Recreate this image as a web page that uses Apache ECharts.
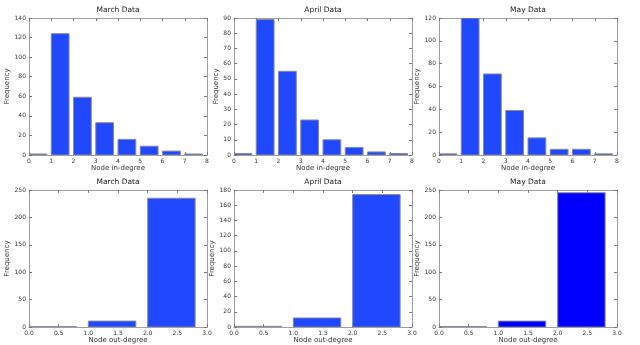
<!DOCTYPE html>
<html>
<head>
<meta charset="utf-8">
<script src="https://cdn.jsdelivr.net/npm/echarts@6/dist/echarts.min.js"></script>
<style>html,body{margin:0;padding:0;background:#fff}#c{width:640px;height:345px}</style>
</head>
<body>
<div id="c"></div>
<script>
// ---- data ----
const titles = ['March Data', 'April Data', 'May Data'];
const inBins = [0, 1, 2, 3, 4, 5, 6, 7];
const outBins = [0, 1, 2];
const marchIn = [1, 124, 59, 33, 16, 9, 4, 1];
const aprilIn = [1, 89, 55, 23, 10, 5, 2, 1];
const mayIn = [1, 120, 71, 39, 15, 5, 5, 1];
const marchOut = [1, 11, 235];
const aprilOut = [1, 12, 174];
const mayOut = [1, 11, 245];
const inYMax = [140, 90, 120];
const inYStep = [20, 10, 20];
const outYMax = [250, 180, 250];
const outYStep = [50, 20, 50];
const inXMax = 8, outXMax = 3;
const BAR_W = 0.8;

// ---- layout ----
const lefts = [29, 234, 439];
const W = 178;
const rows = [{top: 18, height: 137}, {top: 190, height: 138}];
const nameGaps = [16, 13, 15];
const colors = ['#1f48ff', '#1f48ff', '#1f48ff', '#1f48ff', '#1f48ff', '#0000ff'];

const grids = [], xAxes = [], yAxes = [], series = [], titleOpts = [];
const panels = [];
for (let r = 0; r < 2; r++) {
  for (let c = 0; c < 3; c++) {
    const isIn = r === 0;
    panels.push({
      r, c,
      bins: isIn ? inBins : outBins,
      vals: isIn ? [marchIn, aprilIn, mayIn][c] : [marchOut, aprilOut, mayOut][c],
      ymax: isIn ? inYMax[c] : outYMax[c],
      ystep: isIn ? inYStep[c] : outYStep[c],
      xmax: isIn ? inXMax : outXMax,
      xstep: isIn ? 1 : 0.5,
      xname: isIn ? 'Node in-degree' : 'Node out-degree',
      title: titles[c]
    });
  }
}
const frame = '#a0a0a0';
const tickStyle = {show: true, inside: true, length: 3, lineStyle: {color: '#777', width: 1}};
panels.forEach((p, i) => {
  const g = {left: lefts[p.c], width: W, top: rows[p.r].top, height: rows[p.r].height, show: false};
  grids.push(g);
  const fmtX = v => p.xstep < 1 ? v.toFixed(1) : String(v);
  // bottom x
  xAxes.push({
    gridIndex: i, type: 'value', min: 0, max: p.xmax, interval: p.xstep, position: 'bottom',
    axisLine: {show: true, onZero: false, lineStyle: {color: frame}},
    axisTick: tickStyle, splitLine: {show: false},
    axisLabel: {fontSize: 6, color: '#333', margin: 3, formatter: fmtX, fontFamily: 'DejaVu Sans'},
    name: p.xname, nameLocation: 'middle', nameGap: 9,
    nameTextStyle: {fontSize: 7, color: '#333', fontFamily: 'DejaVu Sans'}
  });
  // top x (ticks only)
  xAxes.push({
    gridIndex: i, type: 'value', min: 0, max: p.xmax, interval: p.xstep, position: 'top',
    axisLine: {show: true, onZero: false, lineStyle: {color: frame}},
    axisTick: tickStyle, splitLine: {show: false}, axisLabel: {show: false},
    name: p.title, nameLocation: 'middle', nameGap: 4,
    nameTextStyle: {fontSize: 7.5, color: '#222', fontFamily: 'DejaVu Sans'}
  });
  yAxes.push({
    gridIndex: i, type: 'value', min: 0, max: p.ymax, interval: p.ystep, position: 'left',
    axisLine: {show: true, onZero: false, lineStyle: {color: frame}},
    axisTick: tickStyle, splitLine: {show: false},
    axisLabel: {fontSize: 6, color: '#333', margin: 3, fontFamily: 'DejaVu Sans'},
    name: 'Frequency', nameLocation: 'middle', nameGap: nameGaps[p.c], nameRotate: 90,
    nameTextStyle: {fontSize: 7, color: '#333', fontFamily: 'DejaVu Sans'}
  });
  yAxes.push({
    gridIndex: i, type: 'value', min: 0, max: p.ymax, interval: p.ystep, position: 'right',
    axisLine: {show: true, onZero: false, lineStyle: {color: frame}},
    axisTick: tickStyle, splitLine: {show: false}, axisLabel: {show: false}
  });
  const color = colors[i];
  series.push({
    type: 'custom', xAxisIndex: 2 * i, yAxisIndex: 2 * i,
    clip: true,
    data: p.bins.map((b, k) => [b, p.vals[k]]),
    renderItem: (params, api) => {
      const x0 = api.value(0), y = api.value(1);
      const a = api.coord([x0, 0]);
      const b = api.coord([x0 + BAR_W, y]);
      return {
        type: 'rect',
        shape: {x: a[0], y: b[1], width: b[0] - a[0], height: a[1] - b[1]},
        style: {fill: color, stroke: '#8a8a9a', lineWidth: 1}
      };
    }
  });
});

const chart = echarts.init(document.getElementById('c'), null, {renderer: 'canvas'});
chart.setOption({
  animation: false,
  backgroundColor: '#fff',
  grid: grids, xAxis: xAxes, yAxis: yAxes, series: series
});
</script>
</body>
</html>
